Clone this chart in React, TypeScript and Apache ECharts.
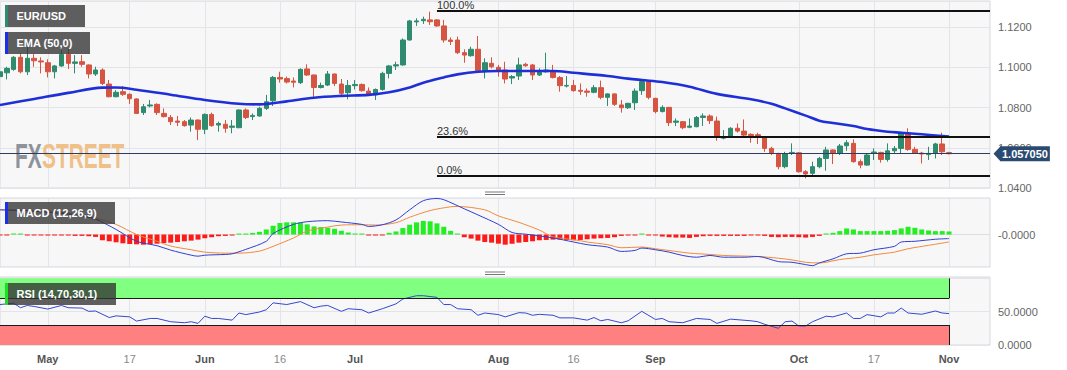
import React, { useEffect, useRef } from "react";
import * as echarts from "echarts";

// ---------- categories (trading days) ----------
const DAYS: Record<string, number[]> = {
  Apr: [20, 21, 24, 25, 26, 27, 28],
  May: [1, 2, 3, 4, 5, 8, 9, 10, 11, 12, 15, 16, 17, 18, 19, 22, 23, 24, 25, 26, 29, 30, 31],
  Jun: [1, 2, 5, 6, 7, 8, 9, 12, 13, 14, 15, 16, 19, 20, 21, 22, 23, 26, 27, 28, 29, 30],
  Jul: [3, 4, 5, 6, 7, 10, 11, 12, 13, 14, 17, 18, 19, 20, 21, 24, 25, 26, 27, 28, 31],
  Aug: [1, 2, 3, 4, 7, 8, 9, 10, 11, 14, 15, 16, 17, 18, 21, 22, 23, 24, 25, 28, 29, 30, 31],
  Sep: [1, 4, 5, 6, 7, 8, 11, 12, 13, 14, 15, 18, 19, 20, 21, 22, 25, 26, 27, 28, 29],
  Oct: [2, 3, 4, 5, 6, 9, 10, 11, 12, 13, 16, 17, 18, 19, 20, 23, 24, 25, 26, 27, 30, 31],
  Nov: [1, 2, 3, 6, 7, 8, 9],
};
const CATEGORIES: string[] = Object.entries(DAYS).flatMap(([m, ds]) => ds.map((d) => `${m} ${d}`));

const TICK_LABELS: Record<string, string> = {
  "May 1": "May", "May 17": "17", "Jun 1": "Jun", "Jun 16": "16", "Jul 3": "Jul",
  "Aug 1": "Aug", "Aug 16": "16", "Sep 1": "Sep", "Oct 2": "Oct", "Oct 17": "17", "Nov 1": "Nov",
};

// ---------- price candles [open, close, low, high] ----------
const CANDLES: number[][] = [
  [1.0954, 1.0978, 1.0945, 1.0987], [1.0973, 1.0995, 1.094, 1.1003], [1.099, 1.105, 1.0983, 1.1056],
  [1.105, 1.0978, 1.097, 1.107], [1.0978, 1.1045, 1.0962, 1.1103], [1.1045, 1.1033, 1.1003, 1.1066],
  [1.1032, 1.1027, 1.097, 1.105], [1.1023, 1.0978, 1.095, 1.104], [1.0978, 1.1007, 1.0945, 1.1012],
  [1.1007, 1.1065, 1.1003, 1.1086], [1.1065, 1.102, 1.0992, 1.1095], [1.102, 1.1027, 1.097, 1.1061],
  [1.1028, 1.1015, 1.1003, 1.1061], [1.1012, 1.0967, 1.0945, 1.1015], [1.0967, 1.0987, 1.0957, 1.1003],
  [1.0987, 1.092, 1.0912, 1.0995], [1.0917, 1.0854, 1.0851, 1.0937], [1.0854, 1.0876, 1.0851, 1.0887],
  [1.0879, 1.0866, 1.0858, 1.0907], [1.0866, 1.0844, 1.0818, 1.0871], [1.0843, 1.0771, 1.0768, 1.0846],
  [1.0775, 1.0804, 1.0763, 1.0818], [1.0808, 1.0813, 1.0801, 1.0838], [1.0816, 1.0775, 1.0763, 1.0821],
  [1.0771, 1.0755, 1.0751, 1.0796], [1.0751, 1.073, 1.0713, 1.0763], [1.0733, 1.0727, 1.0708, 1.0758],
  [1.073, 1.071, 1.0705, 1.0738], [1.0713, 1.0738, 1.068, 1.0751], [1.0738, 1.0692, 1.0638, 1.0741],
  [1.0692, 1.0766, 1.0668, 1.0771], [1.0766, 1.071, 1.0705, 1.0775], [1.0713, 1.0721, 1.068, 1.073],
  [1.0717, 1.0697, 1.0675, 1.0738], [1.0702, 1.0708, 1.0672, 1.0738], [1.07, 1.0788, 1.0697, 1.0791],
  [1.0788, 1.0751, 1.0743, 1.0796], [1.0755, 1.0761, 1.0738, 1.0771], [1.0758, 1.0796, 1.0755, 1.0804],
  [1.0796, 1.0829, 1.0788, 1.0863], [1.0834, 1.095, 1.0808, 1.0957], [1.095, 1.0942, 1.0924, 1.0978],
  [1.0944, 1.0927, 1.092, 1.0954], [1.0932, 1.0926, 1.09, 1.095], [1.0924, 1.099, 1.0917, 1.0995],
  [1.0992, 1.0962, 1.0957, 1.1015], [1.0962, 1.09, 1.0851, 1.0964], [1.09, 1.091, 1.0895, 1.0924],
  [1.0912, 1.0967, 1.0907, 1.0982], [1.0967, 1.092, 1.0907, 1.0969], [1.0917, 1.0871, 1.0863, 1.0942],
  [1.0874, 1.091, 1.0841, 1.0937], [1.0909, 1.0915, 1.089, 1.0937], [1.0915, 1.0884, 1.0879, 1.092],
  [1.0882, 1.0868, 1.0863, 1.09], [1.0863, 1.089, 1.0838, 1.0895], [1.089, 1.097, 1.0884, 1.0978],
  [1.097, 1.1007, 1.0945, 1.1012], [1.1007, 1.1013, 1.0987, 1.1028], [1.1012, 1.1136, 1.1008, 1.1144],
  [1.1136, 1.1231, 1.1133, 1.1236], [1.1226, 1.1231, 1.1206, 1.1244], [1.1232, 1.1239, 1.1216, 1.1252],
  [1.1236, 1.1227, 1.1211, 1.1277], [1.1236, 1.1206, 1.1202, 1.124], [1.1206, 1.1136, 1.1123, 1.1236],
  [1.1136, 1.1129, 1.1111, 1.1149], [1.1136, 1.1073, 1.1066, 1.1153], [1.1073, 1.1061, 1.1023, 1.109],
  [1.1058, 1.109, 1.1053, 1.1103], [1.109, 1.0983, 1.0978, 1.1156], [1.0982, 1.1023, 1.0945, 1.1045],
  [1.102, 1.1003, 1.0995, 1.105], [1.1, 1.0987, 1.0954, 1.1012], [1.0987, 1.0942, 1.092, 1.1028],
  [1.0947, 1.0954, 1.0917, 1.0962], [1.0957, 1.1012, 1.0937, 1.1048], [1.1015, 1.1008, 1.1003, 1.1023],
  [1.1012, 1.0962, 1.0937, 1.1017], [1.0962, 1.0978, 1.0957, 1.0995], [1.0978, 1.0987, 1.0973, 1.1073],
  [1.0983, 1.095, 1.0945, 1.1012], [1.0949, 1.0909, 1.0879, 1.0957], [1.0907, 1.091, 1.09, 1.0957],
  [1.091, 1.0884, 1.0879, 1.0937], [1.0886, 1.0881, 1.0863, 1.092], [1.0882, 1.0876, 1.0854, 1.0895],
  [1.0876, 1.0899, 1.0871, 1.0912], [1.0899, 1.0851, 1.0841, 1.0934], [1.0851, 1.0868, 1.0808, 1.0871],
  [1.0868, 1.0816, 1.0808, 1.0871], [1.0813, 1.0799, 1.0775, 1.0838], [1.0799, 1.0821, 1.0793, 1.0824],
  [1.0824, 1.0882, 1.0788, 1.0895], [1.0884, 1.0929, 1.0863, 1.094], [1.0929, 1.0851, 1.0841, 1.0937],
  [1.0846, 1.078, 1.0771, 1.0848], [1.078, 1.0801, 1.0776, 1.0811], [1.0801, 1.0725, 1.0708, 1.0803],
  [1.0727, 1.0733, 1.0708, 1.0746], [1.073, 1.07, 1.0692, 1.0732], [1.0702, 1.0708, 1.0697, 1.0746],
  [1.0705, 1.0751, 1.0702, 1.0758], [1.0751, 1.0758, 1.0708, 1.0771], [1.0758, 1.0735, 1.0718, 1.0766],
  [1.0733, 1.0652, 1.0635, 1.0755], [1.0648, 1.0655, 1.0642, 1.0688], [1.0658, 1.0697, 1.0655, 1.0702],
  [1.0697, 1.0683, 1.0675, 1.0721], [1.0683, 1.0663, 1.0658, 1.0741], [1.0667, 1.066, 1.0625, 1.0672],
  [1.0665, 1.0658, 1.0619, 1.0675], [1.0655, 1.0597, 1.058, 1.0657], [1.0597, 1.0572, 1.0564, 1.0605],
  [1.0572, 1.0506, 1.0493, 1.0575], [1.0506, 1.0569, 1.0498, 1.058], [1.0572, 1.0577, 1.0564, 1.0622],
  [1.0575, 1.0481, 1.0476, 1.0577], [1.0481, 1.047, 1.0448, 1.0489], [1.0473, 1.0506, 1.0456, 1.0531],
  [1.0506, 1.0547, 1.0498, 1.0555], [1.0547, 1.0589, 1.0486, 1.0605], [1.0589, 1.0572, 1.0519, 1.0592],
  [1.0572, 1.0609, 1.0564, 1.0619], [1.061, 1.0625, 1.0585, 1.0638], [1.0622, 1.0531, 1.0526, 1.0642],
  [1.0531, 1.0514, 1.0498, 1.0542], [1.0514, 1.0564, 1.0511, 1.0569], [1.0572, 1.0579, 1.0539, 1.0597],
  [1.0577, 1.0542, 1.0526, 1.058], [1.0542, 1.0585, 1.0531, 1.0622], [1.0585, 1.0597, 1.0572, 1.0609],
  [1.0597, 1.0672, 1.0572, 1.068], [1.0672, 1.0592, 1.0585, 1.0697], [1.0592, 1.0572, 1.0569, 1.0605],
  [1.0574, 1.0569, 1.0522, 1.058], [1.0566, 1.0572, 1.0539, 1.0605], [1.0572, 1.0619, 1.0547, 1.0625],
  [1.0619, 1.058, 1.0564, 1.0675], [1.0576, 1.05705, 1.0567, 1.058],
];

// EMA(50) read at [day index, price]
const EMA_POINTS: number[][] = [
  [0, 1.0813], [5, 1.0843], [10, 1.0873], [15, 1.0899], [17, 1.09], [20, 1.0889], [25, 1.0864],
  [30, 1.0838], [35, 1.0819], [38, 1.0816], [42, 1.0831], [46, 1.0849], [50, 1.0858], [54, 1.0863],
  [57, 1.0876], [60, 1.09], [62, 1.0924], [65, 1.095], [67, 1.0965], [70, 1.0978], [73, 1.0982],
  [77, 1.0982], [81, 1.0982], [84, 1.0973], [89, 1.0957], [92, 1.0944], [94, 1.0937], [97, 1.0927],
  [101, 1.0904], [105, 1.0868], [110, 1.0841], [113, 1.0819], [115, 1.0796], [118, 1.076],
  [120, 1.0735], [122, 1.0723], [125, 1.0708], [127, 1.0693], [130, 1.068], [132, 1.0675],
  [135, 1.0667], [139, 1.0656],
];

const FIB_LEVELS = [1.1281, 1.0655, 1.0462];
const FIB_LABELS = ["100.0%", "23.6%", "0.0%"];
const FIB_START = 64;
const LAST_PRICE = 1.05705;
const LAST_BAR = 139;

// MACD histogram, one per day
const MACD_HIST: number[] = [
  -0.00013, -0.00007, 0.00007, 0.00007, -0.00007, -0.00007, -0.00013, -0.0002, -0.0002, -0.0002,
  -0.0002, -0.00027, -0.00027, -0.00033, -0.00047, -0.00113, -0.00133, -0.00153, -0.00173, -0.00187,
  -0.00193, -0.002, -0.00187, -0.0018, -0.00167, -0.0016, -0.00147, -0.00133, -0.0012, -0.001,
  -0.00073, -0.00053, -0.00033, -0.00027, -0.00013, 0.00007, 0.00013, 0.00033, 0.00053, 0.001,
  0.00173, 0.00227, 0.0024, 0.0024, 0.00233, 0.002, 0.0016, 0.00147, 0.00133, 0.00113,
  0.00073, 0.0004, 0.0002, 0.00003, -0.0002, -0.0002, -0.00003, 0.00033, 0.0006, 0.00127,
  0.00193, 0.0024, 0.00267, 0.0026, 0.0022, 0.00153, 0.00073, 0.00005, -0.00053, -0.0008,
  -0.0012, -0.00147, -0.0016, -0.0018, -0.002, -0.0018, -0.0016, -0.00147, -0.00133, -0.00113,
  -0.00107, -0.001, -0.001, -0.00107, -0.00113, -0.00107, -0.00093, -0.0008, -0.00073, -0.00067,
  -0.00053, -0.00027, -0.00013, -0.00003, 0.00007, -0.00003, -0.00013, -0.0004, -0.00053, -0.0006,
  -0.0006, -0.00067, -0.00047, -0.00033, -0.00027, -0.00027, -0.00027, -0.00027, -0.00027, -0.00027,
  -0.0002, -0.0002, -0.00027, -0.00047, -0.00053, -0.00047, -0.00047, -0.00053, -0.0006, -0.00047,
  -0.00027, 0.0002, 0.00033, 0.00067, 0.0012, 0.001, 0.00067, 0.00067, 0.00067, 0.00067,
  0.00073, 0.00087, 0.0012, 0.00153, 0.00133, 0.001, 0.0008, 0.00067, 0.00067, 0.0006,
];

const MACD_LINE: number[][] = [
  [0, 0.00487], [4, 0.00467], [8, 0.00427], [11, 0.00387], [14, 0.003], [17, 0.001], [20, -0.00133],
  [23, -0.0022], [25, -0.00307], [28, -0.00407], [29, -0.00427], [30, -0.00407], [33, -0.00393],
  [34, -0.0038], [36, -0.00293], [39, -0.00133], [40, 0.0002], [43, 0.002], [45, 0.00253],
  [48, 0.00273], [50, 0.00247], [53, 0.002], [54, 0.0016], [56, 0.00193], [58, 0.00287],
  [60, 0.00487], [62, 0.00667], [64, 0.0071], [65, 0.00687], [68, 0.00507], [70, 0.00387],
  [73, 0.002], [75, 0.0004], [77, 0.00007], [79, -0.00027], [81, -0.00067], [84, -0.00147],
  [86, -0.002], [89, -0.00247], [91, -0.00333], [93, -0.00313], [94, -0.00267], [96, -0.003],
  [98, -0.00347], [100, -0.00413], [102, -0.00447], [104, -0.00413], [106, -0.00447], [109, -0.00447],
  [111, -0.00433], [114, -0.00533], [116, -0.00547], [118, -0.00593], [119, -0.00613], [120, -0.0056],
  [122, -0.0048], [124, -0.0038], [126, -0.00367], [128, -0.003], [131, -0.00233], [132, -0.00147],
  [134, -0.00133], [137, -0.00093], [139, -0.0008],
];

const SIGNAL_LINE: number[][] = [
  [0, 0.00487], [8, 0.00453], [12, 0.00373], [14, 0.0032], [17, 0.002], [20, 0.0], [23, -0.00133],
  [25, -0.00227], [28, -0.003], [30, -0.00347], [33, -0.00367], [35, -0.00367], [38, -0.00327],
  [40, -0.00233], [43, -0.00067], [45, 0.00067], [48, 0.00147], [50, 0.00187], [53, 0.00193],
  [55, 0.00187], [58, 0.00233], [60, 0.0034], [63, 0.00473], [66, 0.00547], [67, 0.00553],
  [71, 0.00487], [73, 0.00367], [76, 0.0024], [79, 0.00087], [81, -0.00047], [84, -0.001],
  [86, -0.00147], [89, -0.002], [91, -0.0026], [94, -0.00247], [96, -0.0028], [99, -0.00333],
  [101, -0.00367], [104, -0.00393], [106, -0.00413], [111, -0.00433], [114, -0.00467], [116, -0.005],
  [118, -0.00547], [120, -0.0056], [121, -0.00547], [123, -0.00493], [126, -0.00447], [128, -0.004],
  [131, -0.00347], [133, -0.0028], [136, -0.00213], [139, -0.00147],
];

const RSI_POINTS: number[][] = [
  [0, 60.7], [2, 62.7], [3, 55.9], [4, 59.3], [5, 57.8], [7, 53.9], [9, 59.3], [10, 55.9], [12, 55.4],
  [13, 50.5], [14, 51.0], [16, 41.2], [17, 43.7], [19, 42.2], [20, 35.9], [22, 39.8], [23, 39.8],
  [25, 34.9], [27, 33.4], [28, 34.9], [29, 32.4], [30, 43.2], [31, 39.8], [32, 39.8], [34, 37.3],
  [35, 48.0], [36, 45.6], [38, 49.5], [39, 52.9], [40, 63.2], [42, 60.7], [44, 65.1], [46, 55.9],
  [47, 58.3], [48, 59.3], [50, 50.5], [51, 54.4], [53, 52.9], [54, 48.0], [56, 54.4], [58, 61.7],
  [59, 69.0], [61, 73.9], [62, 73.9], [64, 71.5], [65, 60.7], [66, 60.7], [67, 54.4], [69, 52.9],
  [70, 44.6], [71, 48.0], [73, 45.6], [74, 42.2], [76, 48.5], [77, 48.0], [78, 44.6], [79, 46.0],
  [81, 44.6], [82, 40.7], [84, 40.7], [86, 37.3], [87, 41.2], [88, 36.3], [89, 38.3], [91, 33.4],
  [92, 36.3], [94, 50.5], [96, 38.3], [97, 39.8], [98, 34.9], [100, 33.4], [102, 39.8], [104, 38.3],
  [105, 32.4], [107, 38.8], [110, 36.3], [111, 34.9], [112, 31.0], [114, 25.1], [115, 34.9],
  [116, 35.9], [117, 28.5], [118, 28.5], [119, 34.9], [121, 43.2], [122, 42.2], [124, 48.0],
  [125, 39.8], [126, 39.8], [127, 45.6], [129, 42.2], [130, 48.0], [131, 48.0], [132, 55.4],
  [133, 48.0], [135, 46.1], [137, 51.0], [138, 48.0], [139, 47.1],
];
const RSI_UPPER = 70;
const RSI_LOWER = 30;

// ---------- styles ----------
const FONT = '"Liberation Sans", Arial, sans-serif';
const UP = "#2e8b6e";
const DOWN = "#d65442";
const GRID_BG = "#f7f7f8";
const GRID_BORDER = "#d6d8de";
const SPLIT = "#e3e4e8";
const TAG = "#2b4a72";

const isTick = (_i: number, v: string) => TICK_LABELS[v] !== undefined;
const toXY = (pts: number[][]) => pts.map(([i, v]) => [CATEGORIES[i], v]);

function xAxis(gridIndex: number, labels: boolean) {
  return {
    type: "category",
    gridIndex,
    data: CATEGORIES,
    boundaryGap: false,
    axisLine: { show: false },
    axisTick: { show: false },
    axisLabel: labels
      ? {
          interval: isTick,
          margin: 8,
          formatter: (v: string) => {
            const t = TICK_LABELS[v];
            return /^\d+$/.test(t) ? `{d|${t}}` : `{m|${t}}`;
          },
          rich: {
            m: { fontWeight: "bold", color: "#555", fontSize: 11, fontFamily: FONT },
            d: { color: "#888", fontSize: 11, fontFamily: FONT },
          },
        }
      : { show: false },
    splitLine: { show: true, interval: isTick, lineStyle: { color: SPLIT, width: 1 } },
  };
}

const gridBase = { left: 0, right: 77, show: true, backgroundColor: GRID_BG, borderColor: GRID_BORDER, borderWidth: 1 };
const yLabelBase = { color: "#666", fontSize: 11, margin: 8, fontFamily: FONT, showMaxLabel: false };

function labelBox(x: number, y: number, w: number, text: string, stripe: string) {
  return [
    { type: "rect", z: 100, shape: { x, y, width: w, height: 22 }, style: { fill: "#333", opacity: 0.78 } },
    { type: "rect", z: 101, shape: { x, y, width: 3, height: 22 }, style: { fill: stripe } },
    {
      type: "text", z: 102, x: x + 11.5, y: y + 11,
      style: { text, fill: "#fff", font: `bold 11px ${FONT}`, verticalAlign: "middle", align: "left" },
    },
  ];
}

const option: any = {
  animation: false,
  textStyle: { fontFamily: FONT },
  grid: [
    { ...gridBase, top: 1, height: 187 },
    { ...gridBase, top: 198, height: 69 },
    { ...gridBase, top: 277, height: 68 },
  ],
  xAxis: [xAxis(0, false), xAxis(1, false), xAxis(2, true)],
  yAxis: [
    {
      type: "value", gridIndex: 0, position: "right", min: 1.04, max: 1.133, interval: 0.02,
      axisLine: { show: false }, axisTick: { show: false },
      axisLabel: { ...yLabelBase, formatter: (v: number) => v.toFixed(4) },
      splitLine: { lineStyle: { color: SPLIT } },
    },
    {
      type: "value", gridIndex: 1, position: "right", min: -0.0064, max: 0.0072, interval: 0.0064,
      axisLine: { show: false }, axisTick: { show: false },
      axisLabel: { ...yLabelBase, formatter: (v: number) => (Math.abs(v) < 1e-9 ? "-0.0000" : "") },
      splitLine: { show: false },
    },
    {
      type: "value", gridIndex: 2, position: "right", min: 0, max: 102, interval: 50,
      axisLine: { show: false }, axisTick: { show: false },
      axisLabel: { ...yLabelBase, formatter: (v: number) => (v === 0 ? "0.0000" : v === 50 ? "50.0000" : "") },
      splitLine: { lineStyle: { color: SPLIT } },
    },
  ],
  series: [
    {
      type: "candlestick",
      xAxisIndex: 0,
      yAxisIndex: 0,
      data: CANDLES,
      barWidth: 5,
      itemStyle: { color: UP, color0: DOWN, borderColor: UP, borderColor0: DOWN, borderWidth: 1 },
      markLine: {
        symbol: ["none", "none"],
        silent: true,
        animation: false,
        precision: 6,
        data: [
          ...FIB_LEVELS.map((lv, k) => [
            {
              coord: [CATEGORIES[FIB_START], lv],
              lineStyle: { color: "#111", width: 2, type: "solid" },
              label: {
                show: true, formatter: FIB_LABELS[k], position: "insideStartTop",
                color: "#333", fontSize: 11, distance: 0, fontFamily: FONT,
              },
            },
            { coord: [CATEGORIES[CATEGORIES.length - 1], lv] },
          ]),
          {
            yAxis: LAST_PRICE,
            lineStyle: { color: "#2b3d63", width: 1, type: "solid" },
            label: {
              show: true, position: "end", formatter: LAST_PRICE.toFixed(6),
              backgroundColor: TAG, color: "#fff", fontWeight: "bold", fontSize: 11,
              padding: [2, 2, 2, 2], distance: 10, fontFamily: FONT,
            },
          },
        ],
      },
      markPoint: {
        silent: true,
        animation: false,
        data: [
          {
            coord: [CATEGORIES[CATEGORIES.length - 1], LAST_PRICE],
            symbol: "triangle", symbolSize: [15, 7], symbolRotate: 90, symbolOffset: [7, 0],
            itemStyle: { color: TAG }, label: { show: false },
          },
        ],
      },
    },
    {
      type: "line",
      xAxisIndex: 0,
      yAxisIndex: 0,
      data: toXY(EMA_POINTS),
      smooth: 0.35,
      symbol: "none",
      z: 4,
      lineStyle: { color: "#1f2fd8", width: 2.6 },
    },
    {
      type: "bar",
      xAxisIndex: 1,
      yAxisIndex: 1,
      barWidth: 5,
      barMinHeight: 1,
      data: MACD_HIST.map((v) => ({ value: v, itemStyle: { color: v >= 0 ? "#22ee22" : "#ff1a1a" } })),
      markLine: {
        symbol: ["none", "none"], silent: true, animation: false, z: 1, precision: 6,
        data: [{ yAxis: 0 }],
        lineStyle: { color: "#dedede", width: 1, type: "solid" },
        label: { show: false },
      },
    },
    {
      type: "line", xAxisIndex: 1, yAxisIndex: 1, data: toXY(MACD_LINE), smooth: 0.3, symbol: "none",
      lineStyle: { color: "#2f3fd0", width: 1 }, z: 4,
    },
    {
      type: "line", xAxisIndex: 1, yAxisIndex: 1, data: toXY(SIGNAL_LINE), smooth: 0.3, symbol: "none",
      lineStyle: { color: "#f08a3c", width: 1 }, z: 3,
    },
    {
      type: "line",
      xAxisIndex: 2,
      yAxisIndex: 2,
      data: toXY(RSI_POINTS),
      symbol: "none",
      z: 4,
      lineStyle: { color: "#3447d0", width: 1 },
      markArea: {
        silent: true,
        data: [
          [
            { coord: [CATEGORIES[0], RSI_UPPER], itemStyle: { color: "#80ff80", opacity: 1 } },
            { coord: [CATEGORIES[LAST_BAR], 100] },
          ],
          [
            { coord: [CATEGORIES[0], 0], itemStyle: { color: "#ff8080", opacity: 1 } },
            { coord: [CATEGORIES[LAST_BAR], RSI_LOWER] },
          ],
        ],
      },
      markLine: {
        symbol: ["none", "none"],
        silent: true,
        animation: false,
        precision: 6,
        lineStyle: { color: "#1a1a1a", width: 1, type: "solid" },
        label: { show: false },
        data: [
          [{ coord: [CATEGORIES[0], RSI_UPPER] }, { coord: [CATEGORIES[LAST_BAR], RSI_UPPER] }],
          [{ coord: [CATEGORIES[0], RSI_LOWER] }, { coord: [CATEGORIES[LAST_BAR], RSI_LOWER] }],
          [{ coord: [CATEGORIES[LAST_BAR], RSI_UPPER] }, { coord: [CATEGORIES[LAST_BAR], 100] }],
          [{ coord: [CATEGORIES[LAST_BAR], 0] }, { coord: [CATEGORIES[LAST_BAR], RSI_LOWER] }],
        ],
      },
    },
  ],
  graphic: [
    {
      type: "text", z: 1, x: 15, y: 155, scaleX: 0.58,
      style: { text: "FX", fill: "#8d929b", font: `bold 36px ${FONT}`, verticalAlign: "middle" },
    },
    {
      type: "text", z: 1, x: 42, y: 155, scaleX: 0.58,
      style: { text: "STREET", fill: "#efc088", font: `bold 36px ${FONT}`, verticalAlign: "middle" },
    },
    ...labelBox(5, 5, 80, "EUR/USD", "#2e8b6e"),
    ...labelBox(5, 32, 85, "EMA (50,0)", "#1a2fe6"),
    ...labelBox(5, 202, 110, "MACD (12,26,9)", "#1a2fe6"),
    ...labelBox(5, 283, 111, "RSI (14,70,30,1)", "#22dd22"),
    { type: "line", z: 50, shape: { x1: 485, y1: 192, x2: 505, y2: 192 }, style: { stroke: "#777", lineWidth: 1 } },
    { type: "line", z: 50, shape: { x1: 485, y1: 194.5, x2: 505, y2: 194.5 }, style: { stroke: "#777", lineWidth: 1 } },
    { type: "line", z: 50, shape: { x1: 485, y1: 272, x2: 505, y2: 272 }, style: { stroke: "#777", lineWidth: 1 } },
    { type: "line", z: 50, shape: { x1: 485, y1: 274.5, x2: 505, y2: 274.5 }, style: { stroke: "#777", lineWidth: 1 } },
  ],
};

export default function App() {
  const ref = useRef<HTMLDivElement>(null);
  useEffect(() => {
    const chart = echarts.init(ref.current!, null, { renderer: "svg" });
    chart.setOption(option);
    return () => chart.dispose();
  }, []);
  return (
    <div
      ref={ref}
      style={{ position: "fixed", left: 0, top: 0, width: 1067, height: 370, background: "#fff" }}
    />
  );
}
